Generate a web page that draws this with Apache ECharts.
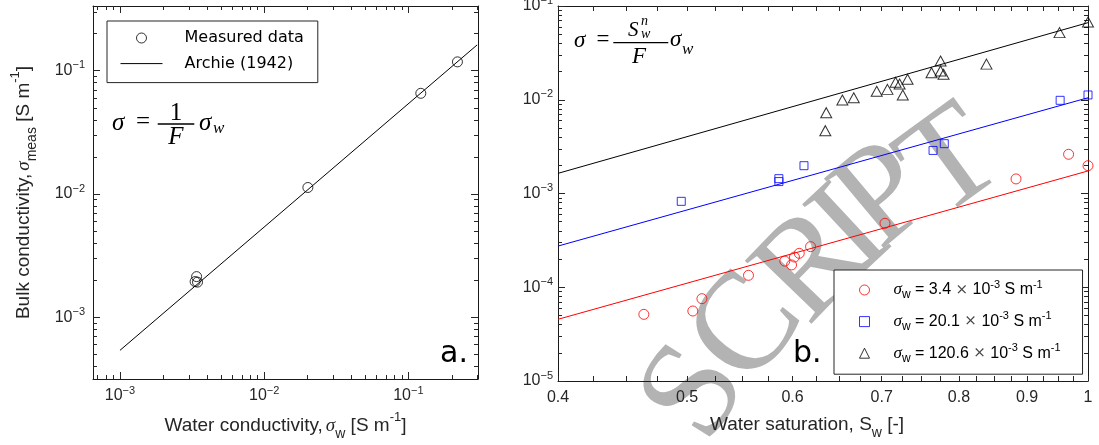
<!DOCTYPE html>
<html>
<head>
<meta charset="utf-8">
<script src="https://cdn.jsdelivr.net/npm/echarts@6/dist/echarts.min.js"></script>
<style>
  html, body { margin: 0; padding: 0; background: #fff; }
  #main { width: 1099px; height: 445px; }
</style>
</head>
<body>
<div id="main"></div>
<script>
// panel a: bulk vs water conductivity [S/m]
const measWater = [3.40e-3, 3.32e-3, 3.45e-3, 0.0201, 0.122, 0.219];
const measBulk = [2.14e-3, 1.95e-3, 1.93e-3, 0.0113, 0.0656, 0.118];
const archieWater = [1e-3, 0.3];
const archieBulk = [5.4e-4, 0.162];

// panel b: bulk conductivity vs saturation, one set per water conductivity
const waterCond = ['3.4', '20.1', '120.6'];
const satLow = [0.464, 0.505, 0.513, 0.556, 0.592, 0.599, 0.602, 0.607, 0.619, 0.704, 0.883, 0.967, 1.0];
const bulkLow = [5.14e-5, 5.58e-5, 7.55e-5, 1.34e-4, 1.9e-4, 1.73e-4, 2.1e-4, 2.3e-4, 2.71e-4, 4.81e-4, 1.43e-3, 2.62e-3, 1.98e-3];
const satMid = [0.495, 0.586, 0.586, 0.612, 0.765, 0.78, 0.953, 1.0];
const bulkMid = [8.25e-4, 1.44e-3, 1.34e-3, 1.98e-3, 2.88e-3, 3.4e-3, 9.86e-3, 0.01125];
const satHigh = [0.635, 0.636, 0.654, 0.667, 0.694, 0.707, 0.717, 0.722, 0.726, 0.732, 0.763, 0.775, 0.775, 0.779, 0.839, 0.952, 1.0];
const bulkHigh = [4.68e-3, 7.28e-3, 9.93e-3, 0.0105, 0.0123, 0.0129, 0.01535, 0.0147, 0.01125, 0.01652, 0.01945, 0.0259, 0.0203, 0.0187, 0.024, 0.052, 0.0675];
const fitSat = [0.4, 1.0];
const fitLow = [4.55e-5, 1.74e-3];
const fitMid = [2.75e-4, 0.0105];
const fitHigh = [1.64e-3, 0.0664];

// ticks
const aDecades = [1e-3, 1e-2, 1e-1];
const bDecades = [1e-5, 1e-4, 1e-3, 1e-2, 1e-1];
const satLabels = [0.4, 0.5, 0.6, 0.7, 0.8, 0.9, 1];
const satTicks = [0.4, 0.425, 0.45, 0.475, 0.5, 0.525, 0.55, 0.575, 0.6, 0.625, 0.65, 0.675, 0.7,
  0.725, 0.75, 0.775, 0.8, 0.825, 0.85, 0.875, 0.9, 0.925, 0.95, 0.975, 1];

const L = Math.log10;
const INK = '#262626';

function minorOf(decades) {
  // 2..9 x each decade, plus the one below the first
  const out = [];
  [decades[0] / 10].concat(decades).forEach(d => {
    for (let k = 2; k <= 9; k++) out.push(L(k * d));
  });
  return out;
}

function pairs(xs, ys) {
  return xs.map((x, i) => [L(x), L(ys[i])]);
}

const tickRich = {
  b: { fontSize: 16, fontFamily: 'Liberation Sans', color: INK, lineHeight: 22 },
  s: { fontSize: 11, fontFamily: 'Liberation Sans', color: INK, lineHeight: 8, verticalAlign: 'top' }
};
const pow10 = v => '{b|10}{s|\u2212' + Math.abs(Math.round(v)) + '}';

const nameRich = {
  t: { fontSize: 19, fontFamily: 'Liberation Sans', color: INK, lineHeight: 30 },
  g: { fontSize: 19, fontFamily: 'Liberation Serif', fontStyle: 'italic', color: INK, lineHeight: 30, padding: [0, 0, 0, 3] },
  sub: { fontSize: 14, fontFamily: 'Liberation Sans', color: INK, lineHeight: 14, verticalAlign: 'bottom' },
  sup: { fontSize: 13, fontFamily: 'Liberation Sans', color: INK, lineHeight: 13, verticalAlign: 'top' }
};

// four axes per side pair: main (with labels) + minor, mirrored on the other side
function axisSet(dim, grid, min, max, major, minor, majorLen, minorLen, label, name) {
  const sides = dim === 'x' ? ['bottom', 'top'] : ['left', 'right'];
  const list = [];
  sides.forEach((side, k) => {
    const main = {
      gridIndex: grid, type: 'value', position: side, min: min, max: max,
      splitLine: { show: false },
      axisLine: { show: true, onZero: false, lineStyle: { color: '#1a1a1a', width: 1 } },
      axisTick: { show: true, inside: true, length: majorLen, customValues: major, lineStyle: { color: INK } },
      axisLabel: { show: false }
    };
    if (k === 0) {
      main.axisLabel = label;
      if (name) Object.assign(main, name);
    }
    list.push(main);
    list.push({
      gridIndex: grid, type: 'value', position: side, min: min, max: max,
      splitLine: { show: false },
      axisLine: { show: false, onZero: false },
      axisTick: { show: minor.length > 0, inside: true, length: minorLen, customValues: minor, lineStyle: { color: INK } },
      axisLabel: { show: false }
    });
  });
  return list;
}

const aMajor = aDecades.map(L);
const bMajor = bDecades.map(L);

const xAxes = [].concat(
  axisSet('x', 0, -3.187, -0.517, aMajor, minorOf(aDecades), 7, 4,
    { show: true, customValues: aMajor, margin: 6, formatter: pow10, rich: tickRich },
    { name: '{t|Water conductivity,}{g|σ}{sub|w}{t| [S m}{sup|-1}{t|]}', nameLocation: 'middle', nameGap: 32,
      nameTextStyle: { rich: nameRich } }),
  axisSet('x', 1, L(0.4), 0, satTicks.map(L), [], 5, 0,
    { show: true, customValues: satLabels.map(L), margin: 6, fontSize: 16, fontFamily: 'Liberation Sans', color: INK, lineHeight: 22,
      formatter: v => String(Math.round(Math.pow(10, v) * 10) / 10) },
    { name: '{t|Water saturation, S}{sub|w}{t| [-]}', nameLocation: 'middle', nameGap: 29,
      nameTextStyle: { rich: nameRich, padding: [0, 32, 0, 0] } })
);

const yAxes = [].concat(
  axisSet('y', 0, -3.5, -0.475, aMajor, minorOf(aDecades), 7, 4,
    { show: true, customValues: aMajor, margin: 8, formatter: pow10, rich: tickRich },
    { name: '{t|Bulk conductivity,}{g|σ}{sub|meas}{t| [S m}{sup|-1}{t|]}', nameLocation: 'middle', nameGap: 54,
      nameRotate: 90, nameTextStyle: { rich: nameRich } }),
  axisSet('y', 1, -5, -1, bMajor, minorOf(bDecades), 7, 4,
    { show: true, customValues: bMajor, margin: 5, formatter: pow10, rich: tickRich })
);

const hollow = c => ({ color: 'rgba(0,0,0,0)', borderColor: c, borderWidth: 1 });
const legendRich = {
  t: { fontSize: 16, fontFamily: 'Liberation Sans', color: '#000', lineHeight: 22 },
  g: { fontSize: 17, fontFamily: 'Liberation Serif', fontStyle: 'italic', color: '#000', lineHeight: 22 },
  x: { fontSize: 15, fontFamily: 'DejaVu Serif', color: '#444', lineHeight: 22 },
  sub: { fontSize: 12, fontFamily: 'Liberation Sans', color: '#000', lineHeight: 12, verticalAlign: 'bottom' },
  sup: { fontSize: 11, fontFamily: 'Liberation Sans', color: '#000', lineHeight: 11, verticalAlign: 'top' }
};

const serif = (size, italic) => (italic ? 'italic ' : '') + size + 'px "Liberation Serif"';
function txt(text, x, y, font, align) {
  return {
    type: 'text', x: x, y: y, z: 100,
    style: { text: text, font: font, fill: '#000', align: align || 'left', verticalAlign: 'middle' }
  };
}
function bar(x1, x2, y) {
  return { type: 'line', z: 100, shape: { x1: x1, y1: y, x2: x2, y2: y }, style: { stroke: '#000', lineWidth: 1.3 } };
}

// watermark letters: [char, x, y, angle deg]
const stamp = [['S', 697, 394, 58], ['C', 749, 330, 52], ['R', 814, 268, 46], ['I', 853, 232, 43], ['P', 886, 198, 40], ['T', 953, 165, 36]];

const myChart = echarts.init(document.getElementById('main'));
const option = {
  animation: false,
  backgroundColor: '#fff',
  grid: [
    { left: 93, top: 6, width: 385, height: 373, outerBoundsMode: 'none' },
    { left: 558, top: 6, width: 530, height: 375, outerBoundsMode: 'none' }
  ],
  xAxis: xAxes,
  yAxis: yAxes,
  legend: [
    {
      orient: 'vertical', left: 107, top: 21, padding: [7, 14, 9, 13],
      itemWidth: 42, itemHeight: 10, itemGap: 5.6,
      backgroundColor: '#fff', borderColor: INK, borderWidth: 1,
      data: ['Measured data', { name: 'Archie (1942)', itemStyle: { opacity: 0 } }],
      itemStyle: { borderWidth: 1 }, lineStyle: { width: 1 },
      textStyle: { fontFamily: 'DejaVu Sans', fontSize: 16, color: '#000', lineHeight: 20, padding: [0, 0, 0, 17] }
    },
    {
      orient: 'vertical', left: 834, top: 270, padding: [9, 22, 10, 25],
      itemWidth: 10, itemHeight: 10, itemGap: 9.6,
      backgroundColor: '#fff', borderColor: INK, borderWidth: 1,
      data: waterCond,
      itemStyle: { borderWidth: 1 },
      formatter: n => '{g|σ}{sub|w}{t| = ' + n + ' }{x|×}{t| 10}{sup|-3}{t| S m}{sup|-1}',
      textStyle: { fontFamily: 'Liberation Sans', fontSize: 16, color: '#000', lineHeight: 22, padding: [0, 0, 0, 19], rich: legendRich }
    }
  ],
  graphic: stamp.map(s => ({
    type: 'text', x: s[1], y: s[2], z: -1, rotation: s[3] * Math.PI / 180,
    style: { text: s[0], font: '140px "Liberation Serif"', fill: '#b3b3b3', align: 'center', verticalAlign: 'middle' }
  })).concat([
    // sigma = 1/F sigma_w
    txt('σ', 112, 123.7, serif(25, true)),
    txt('=', 143, 122, serif(25), 'center'),
    bar(157.7, 194.3, 124),
    txt('1', 176, 113.5, serif(25), 'center'),
    txt('F', 176, 137, serif(25, true), 'center'),
    txt('σ', 199, 123.7, serif(25, true)),
    txt('w', 213, 128.5, serif(17, true)),
    // sigma = Sw^n/F sigma_w
    txt('σ', 574, 40.5, serif(23, true)),
    txt('=', 603, 40, serif(23), 'center'),
    bar(613.3, 668.3, 42.7),
    txt('S', 628, 30.5, serif(21, true)),
    txt('n', 641, 21.8, serif(14, true)),
    txt('w', 641, 34.6, serif(14, true)),
    txt('F', 639, 57.3, serif(23, true), 'center'),
    txt('σ', 670, 40.3, serif(23, true)),
    txt('w', 682, 49.9, serif(17, true)),
    // panel tags
    txt('a.', 440, 354.6, '30px "DejaVu Sans"'),
    txt('b.', 793, 354.6, '30px "DejaVu Sans"')
  ]),
  series: [
    {
      name: 'Measured data', type: 'scatter', xAxisIndex: 0, yAxisIndex: 0,
      symbol: 'circle', symbolSize: 10, itemStyle: hollow('#000'),
      data: pairs(measWater, measBulk)
    },
    {
      name: 'Archie (1942)', type: 'line', xAxisIndex: 0, yAxisIndex: 0,
      symbol: 'none', lineStyle: { color: '#000', width: 1 }, itemStyle: { color: 'rgba(0,0,0,0)' },
      data: pairs(archieWater, archieBulk)
    },
    { name: 'fit ' + waterCond[0], type: 'line', xAxisIndex: 4, yAxisIndex: 4, symbol: 'none',
      lineStyle: { color: '#ff0000', width: 1 }, data: pairs(fitSat, fitLow) },
    { name: 'fit ' + waterCond[1], type: 'line', xAxisIndex: 4, yAxisIndex: 4, symbol: 'none',
      lineStyle: { color: '#0000ff', width: 1 }, data: pairs(fitSat, fitMid) },
    { name: 'fit ' + waterCond[2], type: 'line', xAxisIndex: 4, yAxisIndex: 4, symbol: 'none',
      lineStyle: { color: '#000', width: 1 }, data: pairs(fitSat, fitHigh) },
    {
      name: waterCond[0], type: 'scatter', xAxisIndex: 4, yAxisIndex: 4,
      symbol: 'circle', symbolSize: 10, itemStyle: hollow('#ff0000'),
      data: pairs(satLow, bulkLow)
    },
    {
      name: waterCond[1], type: 'scatter', xAxisIndex: 4, yAxisIndex: 4,
      symbol: 'rect', symbolSize: 8, itemStyle: hollow('#0000ff'),
      data: pairs(satMid, bulkMid)
    },
    {
      name: waterCond[2], type: 'scatter', xAxisIndex: 4, yAxisIndex: 4,
      symbol: 'triangle', symbolSize: [11, 10], itemStyle: hollow('#000'),
      data: pairs(satHigh, bulkHigh)
    }
  ]
};
myChart.setOption(option);
window.onresize = function () {
  myChart.resize();
};
</script>
</body>
</html>
